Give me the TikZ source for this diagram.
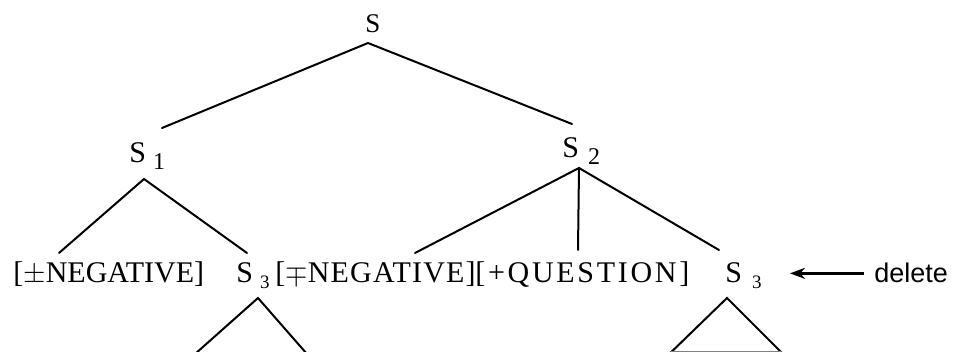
\documentclass[tikz,border=0pt]{standalone}
\usepackage{fontspec}
\setmainfont{Liberation Serif}
\setsansfont{Liberation Sans}
\usetikzlibrary{arrows.meta}
\tikzset{
  lbl/.style={inner sep=0pt, anchor=base west, font=\fontsize{15}{18}\selectfont},
  toplbl/.style={inner sep=0pt, anchor=base west, font=\fontsize{13.5}{16}\selectfont},
  catlbl/.style={inner sep=0pt, anchor=base west, font=\fontsize{15}{18}\selectfont},
  dellbl/.style={inner sep=0pt, anchor=base west, font=\sffamily\fontsize{13.5}{16}\selectfont},
  branch/.style={line width=1pt, line cap=round},
  pointer/.style={line width=1.2pt, -{Stealth[length=7.5pt,width=5.5pt]}},
}
\begin{document}
\begin{tikzpicture}[x=0.5pt,y=-0.5pt]
\useasboundingbox (0,0) rectangle (954,352);
\clip (0,0) rectangle (954,352);
% labels
\node[toplbl] (S) at (365,33) {S};
\node[catlbl] (S1) at (129,163) {S\hspace{3.5pt}\raisebox{-3.5pt}{\fontsize{12}{14}\selectfont 1}};
\node[catlbl] (S2) at (562,158) {S\hspace{4.5pt}\raisebox{-3.5pt}{\fontsize{12}{14}\selectfont 2}};
\node[lbl] (neg1) at (13,283) {[$\pm$NEGATIVE]};
\node[catlbl] (S3l) at (236,283) {S\hspace{3.5pt}\raisebox{-3pt}{\fontsize{9.5}{11}\selectfont 3}};
\node[lbl] (neg2) at (275,283) {\addfontfeature{LetterSpace=4}[$\mp$NEGATIVE]};
\node[lbl] (ques) at (475,283) {\addfontfeature{LetterSpace=9}[+QUESTION]};
\node[catlbl] (S3r) at (725,283) {S\hspace{5pt}\raisebox{-3pt}{\fontsize{9.5}{11}\selectfont 3}};
\node[dellbl] (del) at (874,283) {delete};
% branch points
\coordinate (S-apex) at (368,43);
\coordinate (S1-top) at (162,128);
\coordinate (S2-top) at (572,124);
\coordinate (S1-apex) at (144,179);
\coordinate (neg1-top) at (59,253);
\coordinate (S3l-top) at (247,253);
\coordinate (S2-apex) at (579,168);
\coordinate (neg2-top) at (415,253);
\coordinate (ques-top) at (578,250);
\coordinate (S3r-top) at (719,250);
\coordinate (S3l-apex) at (258,298);
\coordinate (S3l-bl) at (186,362);
\coordinate (S3l-br) at (314,362);
\coordinate (S3r-apex) at (727,298);
\coordinate (S3r-bl) at (661,362);
\coordinate (S3r-br) at (791,362);
\coordinate (S3r-basel) at (671,352);
\coordinate (S3r-baser) at (781,352);
% tree
\draw[branch] (S1-top) -- (S-apex) -- (S2-top);
\draw[branch] (neg1-top) -- (S1-apex) -- (S3l-top);
\draw[branch] (neg2-top) -- (S2-apex) -- (S3r-top);
\draw[branch] (S2-apex) -- (ques-top);
\draw[branch] (S3l-bl) -- (S3l-apex) -- (S3l-br);
\draw[branch] (S3r-bl) -- (S3r-apex) -- (S3r-br);
\draw[branch, draw=gray] (S3r-basel) -- (S3r-baser);
% arrow
\draw[pointer, shorten <=5pt, shorten >=14pt] (del.west) -- (del.west -| S3r.east);
\end{tikzpicture}
\end{document}
